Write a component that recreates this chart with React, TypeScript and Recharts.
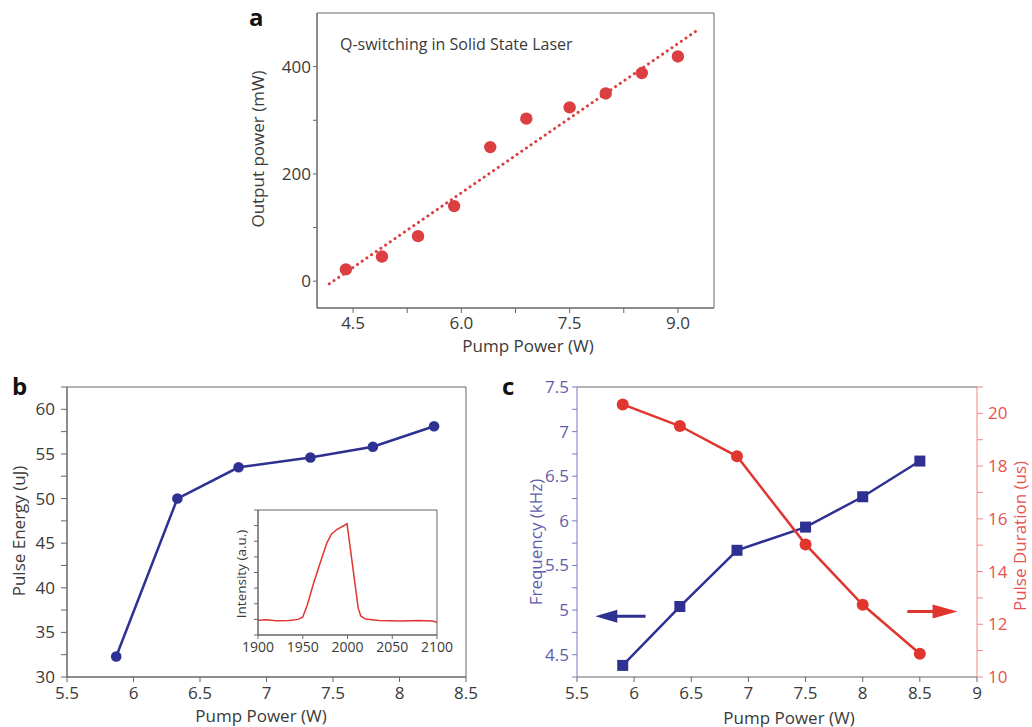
import React from 'react';
import {
  ComposedChart,
  LineChart,
  Line,
  Scatter,
  XAxis,
  YAxis,
  ReferenceArea,
  ReferenceLine,
  ReferenceDot,
} from 'recharts';

const FONT = '"Open Sans", "Noto Sans", sans-serif';
const TXT = '#3a3a3a';
const AX = '#666666';
const RED_A = '#dc3f41';
const NAVY = '#2e3192';
const RED_C = '#e0362f';
const BLUE_AX = '#7b7bc2';
const BLUE_TXT = '#5d5dab';
const RED_AX = '#f08585';
const RED_TXT = '#e8524f';

// ---------- Panel a ----------
const aPump = [4.4, 4.9, 5.4, 5.9, 6.4, 6.9, 7.5, 8.0, 8.5, 9.0];
const aOutput = [22, 46, 84, 140, 250, 303, 324, 350, 388, 419];
const aFitPump = [4.17, 9.26];
const aFitOutput = [-5, 467];
const aXTicks = [4.5, 5.25, 6, 6.75, 7.5, 8.25, 9];
const aXLabeled = [4.5, 6, 7.5, 9];
const aYTicks = [0, 100, 200, 300, 400];
const aYLabeled = [0, 200, 400];

// ---------- Panel b ----------
const bPump = [5.87, 6.33, 6.79, 7.33, 7.8, 8.26];
const bEnergy = [32.3, 50.0, 53.5, 54.6, 55.8, 58.1];
const bXTicks = [5.5, 6, 6.5, 7, 7.5, 8, 8.5];
const bYTicks = [30, 32.5, 35, 37.5, 40, 42.5, 45, 47.5, 50, 52.5, 55, 57.5, 60, 62.5];

// ---------- Inset ----------
const iWave = [1900, 1910, 1920, 1935, 1945, 1950, 1955, 1962, 1970, 1977, 1982, 1988, 1999.5, 2012, 2015, 2020, 2035, 2060, 2080, 2095, 2100];
const iIntensity = [0.95, 0.97, 0.92, 0.93, 1.0, 1.15, 1.9, 3.3, 4.7, 5.9, 6.45, 6.75, 7.12, 1.7, 1.2, 1.02, 0.93, 0.9, 0.92, 0.9, 0.82];
const iXTicks = [1900, 1950, 2000, 2050, 2100];
const iYTicks = [0, 1, 2, 3, 4, 5, 6, 7, 8];

// ---------- Panel c ----------
const cPump = [5.9, 6.4, 6.9, 7.5, 8.0, 8.5];
const cFreq = [4.38, 5.04, 5.67, 5.93, 6.27, 6.67];
const cDuration = [20.34, 19.52, 18.37, 15.03, 12.74, 10.88];
const cXTicks = [5.5, 6, 6.5, 7, 7.5, 8, 8.5, 9];
const cFreqTicks = [4.25, 4.5, 4.75, 5, 5.25, 5.5, 5.75, 6, 6.25, 6.5, 6.75, 7, 7.25, 7.5];
const cDurTicks = [10, 11, 12, 13, 14, 15, 16, 17, 18, 19, 20, 21];
const cFreqArrow = { from: 6.1, to: 5.66, level: 4.93 };
const cDurArrow = { from: 8.39, to: 8.83, level: 12.48 };

const aPoints = aPump.map((x, i) => ({ x, y: aOutput[i] }));
const aFit = aFitPump.map((x, i) => ({ x, y: aFitOutput[i] }));
const bData = bPump.map((x, i) => ({ x, y: bEnergy[i] }));
const iData = iWave.map((w, i) => ({ w, v: iIntensity[i] }));
const cData = cPump.map((x, i) => ({ x, f: cFreq[i], d: cDuration[i] }));

const AxisText = (props: any) => {
  const { px, py, text, rot, color, size } = props;
  return (
    <text
      x={px}
      y={py}
      transform={rot ? `rotate(-90 ${px} ${py})` : undefined}
      textAnchor="middle"
      dominantBaseline="central"
      fill={color || TXT}
      fontSize={size || 17}
      fontFamily={FONT}
    >
      {text}
    </text>
  );
};

const tickStyle = (size = 17, fill = TXT) => ({ fontSize: size, fill, fontFamily: FONT });

const PanelLetter = ({ left, top, ch }: { left: number; top: number; ch: string }) => (
  <div
    style={{
      position: 'absolute',
      left,
      top,
      fontSize: 24,
      lineHeight: 1,
      fontWeight: 700,
      color: '#111',
      fontFamily: FONT,
    }}
  >
    {ch}
  </div>
);

export default function App() {
  return (
    <div
      style={{
        position: 'absolute',
        left: 0,
        top: 0,
        width: 1032,
        height: 727,
        background: '#ffffff',
        fontFamily: FONT,
        overflow: 'hidden',
      }}
    >
      {/* Panel a */}
      <div style={{ position: 'absolute', left: 240, top: 0 }}>
        <ComposedChart width={480} height={360} margin={{ top: 13, right: 6, left: 0, bottom: 0 }}>
          <XAxis
            type="number"
            dataKey="x"
            domain={[4, 9.5]}
            ticks={aXTicks}
            allowDataOverflow
            tickFormatter={(v: number) => (aXLabeled.includes(v) ? v.toFixed(1) : '')}
            tick={tickStyle()}
            tickSize={5}
            tickMargin={4}
            stroke={AX}
            height={52}
            label={<AxisText px={288} py={345} text="Pump Power (W)" />}
          />
          <YAxis
            type="number"
            dataKey="y"
            domain={[-50, 500]}
            ticks={aYTicks}
            allowDataOverflow
            tickFormatter={(v: number) => (aYLabeled.includes(v) ? String(v) : '')}
            tick={tickStyle()}
            tickSize={4}
            tickMargin={2}
            stroke={AX}
            width={77}
            label={<AxisText px={17.5} py={149} rot text="Output power (mW)" />}
          />
          <ReferenceArea x1={4} x2={9.5} y1={-50} y2={500} fill="none" stroke={AX} strokeWidth={1} />
          <Line
            data={aFit}
            dataKey="y"
            type="linear"
            stroke={RED_A}
            strokeWidth={3}
            strokeDasharray="0.1 5.6"
            strokeLinecap="round"
            dot={false}
            activeDot={false}
            isAnimationActive={false}
          />
          <Scatter
            data={aPoints}
            dataKey="y"
            fill={RED_A}
            isAnimationActive={false}
            shape={(p: any) => <circle cx={p.cx} cy={p.cy} r={6.2} fill={RED_A} />}
          />
        </ComposedChart>
      </div>
      <PanelLetter left={249} top={5} ch="a" />
      <div
        style={{
          position: 'absolute',
          left: 340,
          top: 36,
          fontSize: 16,
          lineHeight: 1,
          color: TXT,
          fontFamily: FONT,
          whiteSpace: 'nowrap',
        }}
      >
        Q-switching in Solid State Laser
      </div>

      {/* Panel b */}
      <div style={{ position: 'absolute', left: 0, top: 370 }}>
        <ComposedChart width={480} height={357} margin={{ top: 17, right: 14, left: 0, bottom: 0 }}>
          <XAxis
            type="number"
            dataKey="x"
            domain={[5.5, 8.5]}
            ticks={bXTicks}
            allowDataOverflow
            tick={tickStyle()}
            tickSize={5}
            tickMargin={5}
            stroke={AX}
            height={50}
            label={<AxisText px={261} py={345} text="Pump Power (W)" />}
          />
          <YAxis
            type="number"
            dataKey="y"
            domain={[30, 62.5]}
            ticks={bYTicks}
            allowDataOverflow
            tickFormatter={(v: number) => (v % 5 === 0 ? String(v) : '')}
            tick={tickStyle()}
            tickSize={6}
            tickMargin={6}
            stroke={AX}
            width={67}
            label={<AxisText px={18.5} py={161} rot text="Pulse Energy (uJ)" />}
          />
          <ReferenceArea x1={5.5} x2={8.5} y1={30} y2={62.5} fill="none" stroke={AX} strokeWidth={1} />
          <Line
            data={bData}
            dataKey="y"
            type="linear"
            stroke={NAVY}
            strokeWidth={2.5}
            dot={{ r: 5.3, fill: NAVY, stroke: NAVY, strokeWidth: 0 }}
            activeDot={false}
            isAnimationActive={false}
          />
        </ComposedChart>
      </div>
      <PanelLetter left={12} top={374} ch="b" />

      {/* Inset */}
      <div style={{ position: 'absolute', left: 200, top: 495 }}>
        <LineChart width={270} height={170} data={iData} margin={{ top: 15, right: 33, left: 0, bottom: 0 }}>
          <XAxis
            type="number"
            dataKey="w"
            domain={[1900, 2100]}
            ticks={iXTicks}
            allowDataOverflow
            tick={tickStyle(14)}
            tickSize={4}
            tickMargin={3}
            stroke={AX}
            height={30}
          />
          <YAxis
            type="number"
            domain={[0, 8]}
            ticks={iYTicks}
            allowDataOverflow
            tickFormatter={() => ''}
            tickSize={4}
            stroke={AX}
            width={58}
            label={<AxisText px={40.5} py={79} rot size={13.5} text="Intensity (a.u.)" />}
          />
          <ReferenceArea x1={1900} x2={2100} y1={0} y2={8} fill="none" stroke={AX} strokeWidth={1} />
          <Line
            dataKey="v"
            type="linear"
            stroke={RED_C}
            strokeWidth={1.5}
            dot={false}
            activeDot={false}
            isAnimationActive={false}
          />
        </LineChart>
      </div>

      {/* Panel c */}
      <div style={{ position: 'absolute', left: 490, top: 370 }}>
        <ComposedChart width={542} height={357} data={cData} margin={{ top: 17, right: 0, left: 0, bottom: 0 }}>
          <XAxis
            type="number"
            dataKey="x"
            domain={[5.5, 9]}
            ticks={cXTicks}
            allowDataOverflow
            tick={tickStyle()}
            tickSize={5}
            tickMargin={5}
            stroke={AX}
            height={50}
            label={<AxisText px={299} py={347} text="Pump Power (W)" />}
          />
          <YAxis
            yAxisId="f"
            orientation="left"
            type="number"
            domain={[4.25, 7.5]}
            ticks={cFreqTicks}
            allowDataOverflow
            tickFormatter={(v: number) => (Math.abs(v * 2 - Math.round(v * 2)) < 1e-9 ? String(v) : '')}
            tick={tickStyle(17, BLUE_TXT)}
            tickSize={5}
            tickMargin={3}
            stroke={BLUE_AX}
            width={87}
            label={<AxisText px={45} py={172} rot color={BLUE_TXT} text="Frequency (kHz)" />}
          />
          <YAxis
            yAxisId="d"
            orientation="right"
            type="number"
            domain={[10, 21]}
            ticks={cDurTicks}
            allowDataOverflow
            tickFormatter={(v: number) => (v % 2 === 0 ? String(v) : '')}
            tick={tickStyle(17, RED_TXT)}
            tickSize={6}
            tickMargin={5}
            stroke={RED_AX}
            width={55}
            label={<AxisText px={529} py={166} rot color={RED_TXT} text="Pulse Duration (us)" />}
          />
          <ReferenceLine yAxisId="f" y={7.5} stroke={AX} strokeWidth={1} />
          <Line
            yAxisId="f"
            dataKey="f"
            type="linear"
            stroke={NAVY}
            strokeWidth={2.5}
            dot={(p: any) => (
              <rect key={`sq-${p.index}`} x={p.cx - 5.5} y={p.cy - 5.5} width={11} height={11} fill={NAVY} />
            )}
            activeDot={false}
            isAnimationActive={false}
          />
          <Line
            yAxisId="d"
            dataKey="d"
            type="linear"
            stroke={RED_C}
            strokeWidth={2.5}
            dot={{ r: 6, fill: RED_C, stroke: RED_C, strokeWidth: 0 }}
            activeDot={false}
            isAnimationActive={false}
          />
          <ReferenceLine
            yAxisId="f"
            segment={[
              { x: cFreqArrow.to + 0.12, y: cFreqArrow.level },
              { x: cFreqArrow.from, y: cFreqArrow.level },
            ]}
            stroke={NAVY}
            strokeWidth={3}
          />
          <ReferenceDot
            yAxisId="f"
            x={cFreqArrow.to}
            y={cFreqArrow.level}
            r={1}
            shape={(p: any) => (
              <polygon
                points={`${p.cx},${p.cy} ${p.cx + 22},${p.cy - 6.5} ${p.cx + 22},${p.cy + 6.5}`}
                fill={NAVY}
              />
            )}
          />
          <ReferenceLine
            yAxisId="d"
            segment={[
              { x: cDurArrow.from, y: cDurArrow.level },
              { x: cDurArrow.to - 0.12, y: cDurArrow.level },
            ]}
            stroke={RED_C}
            strokeWidth={3}
          />
          <ReferenceDot
            yAxisId="d"
            x={cDurArrow.to}
            y={cDurArrow.level}
            r={1}
            shape={(p: any) => (
              <polygon
                points={`${p.cx},${p.cy} ${p.cx - 25},${p.cy - 7} ${p.cx - 25},${p.cy + 7}`}
                fill={RED_C}
              />
            )}
          />
        </ComposedChart>
      </div>
      <PanelLetter left={502} top={374} ch="c" />
    </div>
  );
}
